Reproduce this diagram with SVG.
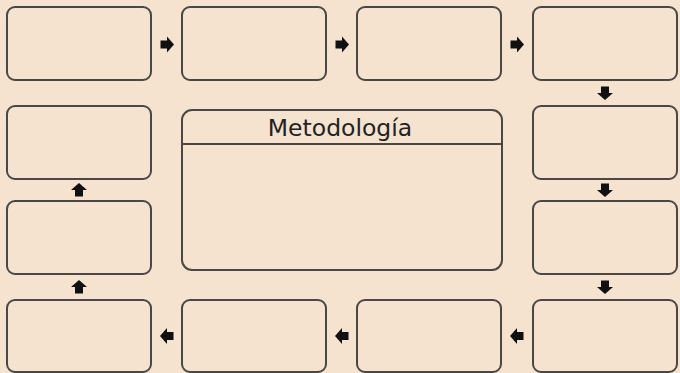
<svg xmlns="http://www.w3.org/2000/svg" width="680" height="373" viewBox="0 0 680 373">
  <style>
    .box { fill: #f5e3cf; stroke: #4a4744; stroke-width: 2; }
    .arr { fill: #111; }
    .title { font-family: "DejaVu Sans", sans-serif; font-size: 23.5px; fill: #222; }
  </style>
  <defs>
    <!-- block arrow pointing right, centred on the origin -->
    <path id="blk" d="M-6.5,-4 H0 V-8 L7,0 L0,8 V4 H-6.5 Z"/>
  </defs>
  <rect width="680" height="373" fill="#f5e3cf"/>

  <g id="n1"><rect class="box" x="7" y="7" width="144" height="73" rx="8"/></g>
  <g id="n2"><rect class="box" x="182" y="7" width="144" height="73" rx="8"/></g>
  <g id="n3"><rect class="box" x="357" y="7" width="144" height="73" rx="8"/></g>
  <g id="n4"><rect class="box" x="533" y="7" width="144" height="73" rx="8"/></g>
  <g id="n5"><rect class="box" x="533" y="106" width="144" height="73" rx="8"/></g>
  <g id="n6"><rect class="box" x="533" y="201" width="144" height="73" rx="8"/></g>
  <g id="n7"><rect class="box" x="533" y="300" width="144" height="72" rx="8"/></g>
  <g id="n8"><rect class="box" x="357" y="300" width="144" height="72" rx="8"/></g>
  <g id="n9"><rect class="box" x="182" y="300" width="144" height="72" rx="8"/></g>
  <g id="n10"><rect class="box" x="7" y="300" width="144" height="72" rx="8"/></g>
  <g id="n11"><rect class="box" x="7" y="201" width="144" height="73" rx="8"/></g>
  <g id="n12"><rect class="box" x="7" y="106" width="144" height="73" rx="8"/></g>

  <g id="center">
    <rect class="box" x="182" y="110" width="320" height="160" rx="10"/>
    <line x1="182" y1="144" x2="502" y2="144" stroke="#4a4744" stroke-width="2"/>
    <text class="title" x="340" y="136" text-anchor="middle">Metodología</text>
  </g>

  <g id="connectors" class="arr">
    <use href="#blk" transform="translate(167,44.5)"/>
    <use href="#blk" transform="translate(342,44.5)"/>
    <use href="#blk" transform="translate(517,44.5)"/>
    <use href="#blk" transform="translate(605,93) rotate(90)"/>
    <use href="#blk" transform="translate(605,190) rotate(90)"/>
    <use href="#blk" transform="translate(605,287) rotate(90)"/>
    <use href="#blk" transform="translate(517,336) rotate(180)"/>
    <use href="#blk" transform="translate(342,336) rotate(180)"/>
    <use href="#blk" transform="translate(167,336) rotate(180)"/>
    <use href="#blk" transform="translate(79,287) rotate(-90)"/>
    <use href="#blk" transform="translate(79,190) rotate(-90)"/>
  </g>
</svg>
